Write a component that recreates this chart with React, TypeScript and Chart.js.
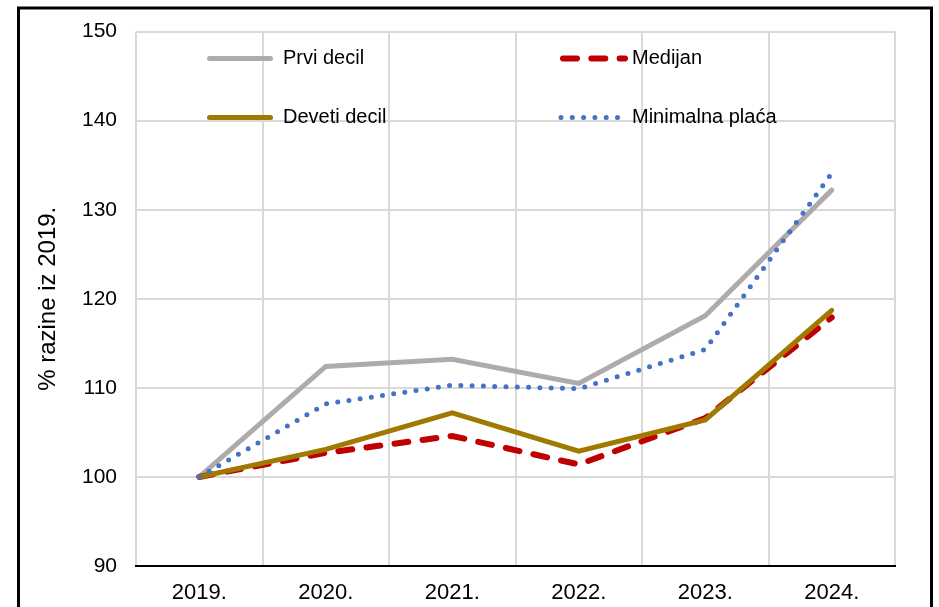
import React, { useEffect, useRef } from 'react';
import { Chart, registerables } from 'chart.js';

Chart.register(...registerables);

const categories = ['2019.', '2020.', '2021.', '2022.', '2023.', '2024.'];
const prviDecil = [100, 112.4, 113.2, 110.5, 118.1, 132.2];
const medijan = [100, 102.7, 104.6, 101.4, 106.6, 117.9];
const devetiDecil = [100, 103.1, 107.2, 102.9, 106.4, 118.7];
const minimalnaPlaca = [100, 108.2, 110.3, 109.9, 114.3, 134.1];
const yTicks = [90, 100, 110, 120, 130, 140, 150];
const yTitle = '% razine iz 2019.';
const seriesNames = ['Prvi decil', 'Medijan', 'Deveti decil', 'Minimalna plaća'];

const FONT = "'Liberation Sans', Arial, sans-serif";

// legend slot for each dataset: [column, row]
const legendSlots = [
  [0, 0],
  [1, 0],
  [0, 1],
  [1, 1],
];

const legendPlugin = {
  id: 'customLegend',
  afterDraw(chart: any) {
    const { ctx, chartArea } = chart;
    const rows = [chartArea.top + 27, chartArea.top + 86];
    const cols = [
      { x0: chartArea.left + 73.5, x1: chartArea.left + 134.5, tx: chartArea.left + 147 },
      { x0: chartArea.left + 427, x1: chartArea.left + 489, tx: chartArea.left + 496 },
    ];
    chart.data.datasets.forEach((ds: any, i: number) => {
      const [c, r] = legendSlots[i];
      const col = cols[c];
      const y = rows[r];
      ctx.save();
      ctx.strokeStyle = ds.borderColor;
      ctx.lineWidth = ds.borderWidth;
      ctx.lineCap = 'round';
      ctx.setLineDash(ds.borderDash || []);
      ctx.beginPath();
      let x0 = col.x0;
      let x1 = col.x1;
      if (i === 3) {
        x0 = chartArea.left + 425;
        x1 = chartArea.left + 484;
      }
      ctx.moveTo(x0, y);
      ctx.lineTo(x1, y);
      ctx.stroke();
      ctx.setLineDash([]);
      ctx.fillStyle = '#000000';
      ctx.font = `20px ${FONT}`;
      ctx.textBaseline = 'middle';
      ctx.textAlign = 'left';
      ctx.fillText(ds.label, col.tx, y);
      ctx.restore();
    });
  },
};

const framePlugin = {
  id: 'frame',
  beforeDraw(chart: any) {
    const { ctx, width, height } = chart;
    ctx.save();
    ctx.fillStyle = '#ffffff';
    ctx.fillRect(0, 0, width, height);
    ctx.restore();
  },
  afterDraw(chart: any) {
    const { ctx } = chart;
    ctx.save();
    ctx.strokeStyle = '#000000';
    ctx.lineWidth = 3;
    ctx.strokeRect(18.5, 8, 913, 700);
    ctx.restore();
  },
};

export default function App() {
  const ref = useRef<HTMLCanvasElement>(null);

  useEffect(() => {
    if (!ref.current) return;
    const chart = new Chart(ref.current, {
      type: 'line',
      data: {
        labels: categories,
        datasets: [
          {
            label: seriesNames[0],
            data: prviDecil,
            borderColor: '#AFABAB',
            borderWidth: 5,
            borderCapStyle: 'round',
            pointRadius: 0,
            tension: 0,
            order: 4,
          },
          {
            label: seriesNames[1],
            data: medijan,
            borderColor: '#C00000',
            borderWidth: 6,
            borderDash: [14, 14.3],
            borderCapStyle: 'round',
            pointRadius: 0,
            tension: 0,
            order: 3,
          },
          {
            label: seriesNames[2],
            data: devetiDecil,
            borderColor: '#A07A00',
            borderWidth: 5,
            borderCapStyle: 'round',
            pointRadius: 0,
            tension: 0,
            order: 2,
          },
          {
            label: seriesNames[3],
            data: minimalnaPlaca,
            borderColor: '#4472C4',
            borderWidth: 5,
            borderDash: [0, 11.3],
            borderCapStyle: 'round',
            pointRadius: 0,
            tension: 0,
            order: 1,
          },
        ],
      },
      options: {
        responsive: false,
        animation: false,
        layout: { padding: { left: 34, right: 44, top: 30, bottom: 0 } },
        plugins: {
          legend: { display: false },
          tooltip: { enabled: false },
        },
        scales: {
          x: {
            offset: true,
            grid: { offset: true, color: '#D9D9D9', lineWidth: 2, drawTicks: false },
            border: { display: true, color: '#000000', width: 2 },
            ticks: {
              color: '#000000',
              font: { family: FONT, size: 22 },
              padding: 14,
              maxRotation: 0,
              minRotation: 0,
              autoSkip: false,
            },
            afterFit(scale: any) {
              scale.height = 41;
            },
          },
          y: {
            min: 90,
            max: 150,
            grid: { color: '#D9D9D9', lineWidth: 2, drawTicks: false },
            border: { display: false },
            ticks: {
              color: '#000000',
              font: { family: FONT, size: 21 },
              padding: 19,
            },
            afterBuildTicks(scale: any) {
              scale.ticks = yTicks.map((v) => ({ value: v }));
            },
            title: {
              display: true,
              text: yTitle,
              color: '#000000',
              font: { family: FONT, size: 24 },
              padding: 0,
            },
            afterFit(scale: any) {
              scale.width = 102;
            },
          },
        },
      },
      plugins: [framePlugin, legendPlugin],
    } as any);
    return () => chart.destroy();
  }, []);

  return (
    <div style={{ position: 'fixed', left: 0, top: 0, width: 939, height: 607, overflow: 'hidden', background: '#fff' }}>
      <canvas ref={ref} width={939} height={607} style={{ width: 939, height: 607, display: 'block' }} />
    </div>
  );
}
